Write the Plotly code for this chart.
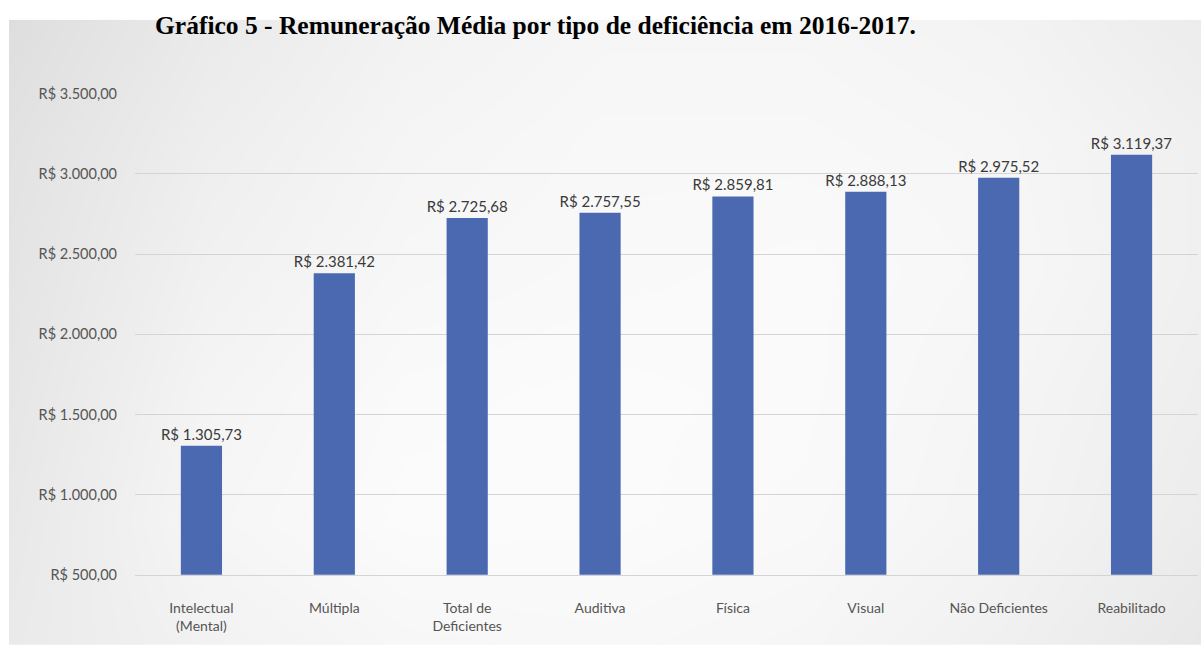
import plotly.graph_objects as go

# Average remuneration by type of disability (R$)
categories = [
    "Intelectual<br>(Mental)",
    "Múltipla",
    "Total de<br>Deficientes",
    "Auditiva",
    "Física",
    "Visual",
    "Não Deficientes",
    "Reabilitado",
]
remuneracao = [1305.73, 2381.42, 2725.68, 2757.55, 2859.81, 2888.13, 2975.52, 3119.37]

y_ticks = [500, 1000, 1500, 2000, 2500, 3000, 3500]


def brl(v):
    """Format a number as Brazilian currency, e.g. R$ 1.305,73."""
    s = f"{v:,.2f}".replace(",", "_").replace(".", ",").replace("_", ".")
    return "R$ " + s


# Soft grey backdrop of the slide (brightness levels, bottom row first)
bg_x = [0, 1 / 6, 2 / 6, 3 / 6, 4 / 6, 5 / 6, 1]
bg_y = [0, 0.2, 0.4, 0.6, 0.8, 1.0]
bg_z = [
    [234, 242, 247, 248, 246, 240, 232],
    [232, 246, 251, 251, 249, 244, 236],
    [230, 244, 250, 251, 250, 245, 238],
    [228, 241, 247, 249, 250, 247, 240],
    [226, 238, 245, 248, 248, 246, 240],
    [222, 234, 242, 246, 246, 243, 236],
]

W, H = 1203, 653
plot_left, plot_right, plot_top, plot_bottom = 135, 1198, 87, 581

fig = go.Figure()

fig.add_trace(go.Heatmap(
    x=bg_x, y=bg_y, z=bg_z,
    zmin=200, zmax=255,
    colorscale=[[0, "rgb(200,200,200)"], [1, "rgb(255,255,255)"]],
    zsmooth="best", showscale=False, hoverinfo="skip",
    xaxis="x", yaxis="y",
))

fig.add_trace(go.Bar(
    x=categories, y=remuneracao,
    marker=dict(color="#4b69b1", line=dict(width=0)),
    text=[brl(v) for v in remuneracao],
    textposition="outside",
    constraintext="none",
    textfont=dict(family="Lato", size=15, color="#3a3a3a"),
    cliponaxis=False,
    xaxis="x2", yaxis="y2",
))

fig.update_layout(
    width=W, height=H,
    margin=dict(l=0, r=0, t=0, b=0),
    paper_bgcolor="white",
    plot_bgcolor="rgba(0,0,0,0)",
    showlegend=False,
    bargap=0.69,
    xaxis=dict(domain=[9 / W, 1201 / W], range=[0, 1], visible=False, fixedrange=True),
    yaxis=dict(domain=[0, 1 - 11 / H], range=[0, 1], visible=False, fixedrange=True),
    xaxis2=dict(
        domain=[plot_left / W, plot_right / W],
        anchor="y2",
        showgrid=False,
        showline=True, linecolor="#d4d4d4", linewidth=1,
        ticks="", ticklabelstandoff=20,
        tickfont=dict(family="Lato", size=14, color="#555555"),
    ),
    yaxis2=dict(
        domain=[(H - plot_bottom) / H, (H - plot_top) / H],
        anchor="x2",
        range=[500, 3500],
        tickvals=y_ticks,
        ticktext=[brl(v) for v in y_ticks],
        showgrid=True, gridcolor="#d4d4d4", gridwidth=1,
        zeroline=False, showline=False,
        ticks="", ticklabelstandoff=17,
        tickfont=dict(family="Lato", size=14.5, color="#555555"),
    ),
    annotations=[dict(
        text="<b>Gráfico 5 - Remuneração Média por tipo de deficiência em 2016-2017.</b>",
        xref="paper", yref="paper", x=0.4455, y=1,
        xanchor="center", yanchor="top",
        showarrow=False,
        font=dict(family="Liberation Serif", size=25.5, color="black"),
    )],
)

fig.write_html("out.html")
